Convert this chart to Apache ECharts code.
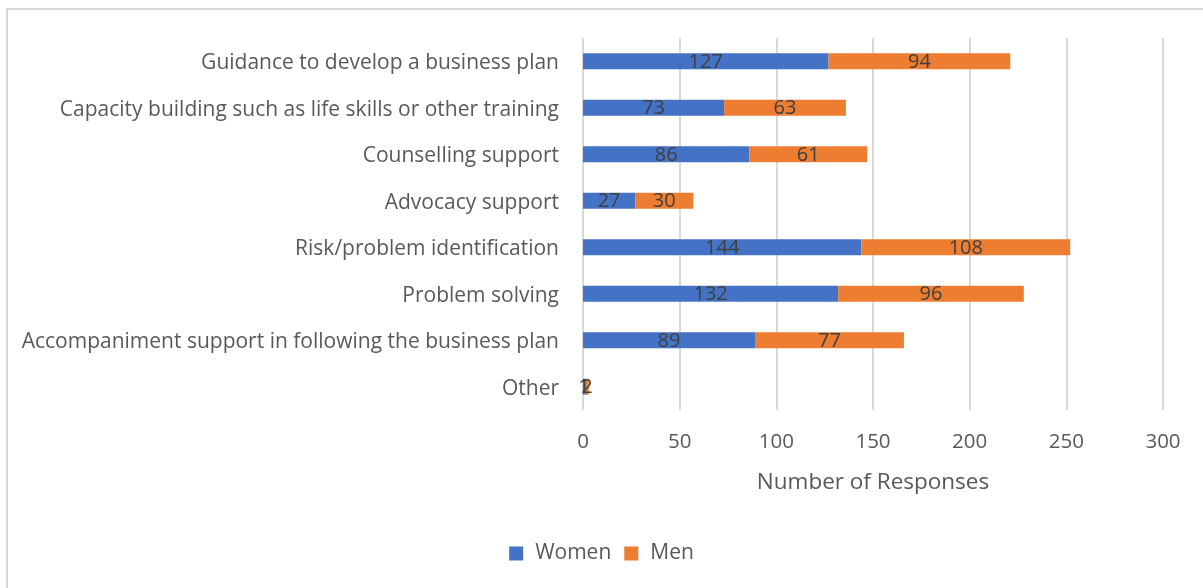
<!DOCTYPE html>
<html>
<head>
<meta charset="utf-8">
<script src="https://cdn.jsdelivr.net/npm/echarts@6/dist/echarts.min.js"></script>
<style>
  html, body { margin: 0; padding: 0; background: #fff; overflow: hidden; }
  #frame { position: absolute; left: 6px; top: 8px; width: 1220px; height: 600px; border: 2px solid #d9d9d9; box-sizing: border-box; }
  #chart { position: absolute; left: 0; top: 0; width: 1203px; height: 588px; }
</style>
</head>
<body>
<div id="frame"></div>
<div id="chart"></div>
<script>
// Support types, listed top to bottom as displayed
const categories = [
  'Guidance to develop a business plan',
  'Capacity building such as life skills or other training',
  'Counselling support',
  'Advocacy support',
  'Risk/problem identification',
  'Problem solving',
  'Accompaniment support in following the business plan',
  'Other'
];
const women = [127, 73, 86, 27, 144, 132, 89, 1];
const men = [94, 63, 61, 30, 108, 96, 77, 2];
const xTicks = [0, 50, 100, 150, 200, 250, 300];

const FONT = '"Open Sans", "Liberation Sans", sans-serif';
const chart = echarts.init(document.getElementById('chart'));

const labelStyle = {
  show: true,
  position: 'inside',
  color: '#404040',
  fontSize: 20,
  fontFamily: FONT,
  offset: [0, 1]
};

chart.setOption({
  animation: false,
  grid: { left: 583, right: 40, top: 38, bottom: 178, containLabel: false },
  xAxis: {
    type: 'value',
    min: xTicks[0],
    max: xTicks[xTicks.length - 1],
    interval: 50,
    name: 'Number of Responses',
    nameLocation: 'middle',
    nameGap: 61,
    nameTextStyle: { color: '#595959', fontSize: 22.5, fontFamily: FONT },
    axisLine: { show: false },
    axisTick: { show: false },
    axisLabel: { color: '#595959', fontSize: 20.5, fontFamily: FONT, margin: 22 },
    splitLine: { show: true, lineStyle: { color: '#d9d9d9', width: 2 } }
  },
  yAxis: {
    type: 'category',
    data: categories,
    inverse: true,
    axisLine: { show: false },
    axisTick: { show: false },
    axisLabel: {
      color: '#595959', fontSize: 21, fontFamily: FONT, margin: 24,
      formatter: (v) => '{c|' + v + '}',
      rich: { c: { color: '#595959', fontSize: 21, fontFamily: FONT, padding: [4, 0, 0, 0] } }
    }
  },
  legend: {
    data: ['Women', 'Men'],
    bottom: 19,
    left: 'center',
    itemWidth: 14,
    itemHeight: 14,
    itemGap: 13,
    icon: 'rect',
    textStyle: { color: '#595959', fontSize: 21, fontFamily: FONT, padding: [0, 0, 0, 7] }
  },
  series: [
    {
      name: 'Women',
      type: 'bar',
      stack: 'total',
      data: women,
      barWidth: 16,
      itemStyle: { color: '#4472c4' },
      label: labelStyle
    },
    {
      name: 'Men',
      type: 'bar',
      stack: 'total',
      data: men,
      barWidth: 16,
      itemStyle: { color: '#ed7d31' },
      label: labelStyle
    }
  ]
});
</script>
</body>
</html>
